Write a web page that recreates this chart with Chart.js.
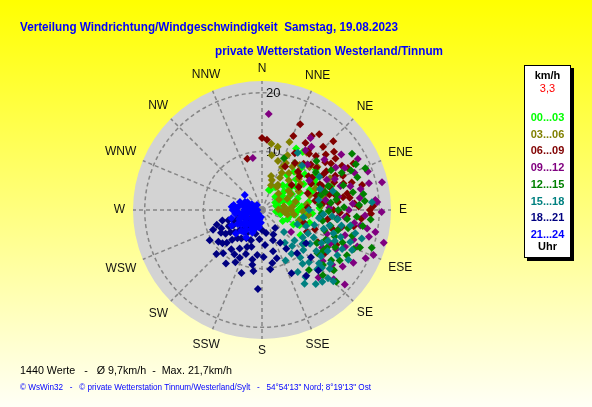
<!DOCTYPE html>
<html>
<head>
<meta charset="utf-8">
<script src="https://cdn.jsdelivr.net/npm/chart.js@4.4.1/dist/chart.umd.min.js"></script>
<style>
html, body { margin: 0; padding: 0; }
body { width: 592px; height: 407px; overflow: hidden; background: linear-gradient(#ffff00, #fffff6); }
#wrap { position: relative; width: 592px; height: 407px; }
</style>
</head>
<body>
<div id="wrap"><canvas id="windChart"></canvas></div>
<script>
// compass and scale
const compassLabels = ['N', 'NNE', 'NE', 'ENE', 'E', 'ESE', 'SE', 'SSE', 'S', 'SSW', 'SW', 'WSW', 'W', 'WNW', 'NW', 'NNW'];
const ringTicks = [10, 20];
const speedMax = 22;

// time groups (Uhr) and their colours
const timeGroups = ['00...03', '03...06', '06...09', '09...12', '12...15', '15...18', '18...21', '21...24'];
const groupColors = ['#00ff00', '#808000', '#800000', '#800080', '#008000', '#008080', '#000080', '#0000ff'];

// [direction in degrees, speed in km/h]
const wind0003 = [[22,3.7],[30,4.5],[35,12.1],[29,12.0],[40,5.5],[45,3.2],[48,7.8],[50,9.5],[52,6.1],[55,4.2],[58,8.4],[60,2.6],
  [62,5.8],[64,10.2],[66,7.1],[68,3.9],[70,9.0],[72,6.4],[74,4.8],[76,11.2],[78,2.9],[80,8.1],[82,5.3],[84,7.4],[86,3.5],
  [88,9.8],[90,6.2],[92,4.1],[94,8.6],[96,2.4],[98,5.7],[100,7.0],[103,3.2],[106,6.5],[110,4.6],[115,5.9],[123,7.8],[128,9.2],
  [57,10.8],[43,9.9],[36,7.3],[53,11.5],[71,12.5],[19,3.6],[35,9.8],[57,10.2],[65,5.0],[79,6.0],[88,4.8],[47,6.0],
  [40,8.5],[45,11.0],[50,5.0],[55,7.0],[60,10.5],[63,3.5],[67,8.8],[73,2.5],[77,5.5],[81,9.5],[85,6.8],[89,3.0],[93,5.9],
  [97,7.6],[101,4.9],[105,8.4],[112,6.9],[118,4.0]];
const wind0306 = [[8,11.4],[14,11.1],[18,8.8],[15,6.0],[20,4.5],[25,10.3],[28,7.2],[32,5.1],[35,9.0],[38,12.4],[42,6.8],[45,4.0],
  [48,10.9],[50,8.2],[54,5.6],[58,3.4],[60,9.6],[63,7.0],[66,4.7],[70,11.0],[73,8.5],[76,5.9],[80,3.8],[83,7.7],[86,10.1],
  [90,5.0],[93,3.6],[96,8.0],[100,4.4],[105,6.6],[88,2.8],[65,12.8],[25,8.1],[18,5.4],[33,4.7],[95,3.9],[90,4.4],[29,6.3],
  [10,9.5],[22,12.5],[27,9.0],[36,7.8],[40,10.0],[44,8.8],[52,12.0],[56,7.9],[61,5.6],[68,9.8],[78,10.8],[84,5.2],[92,7.0],
  [98,5.5]];
const wind0609 = [[0,12.3],[4,12.0],[344,9.1],[23,13.7],[24,16.0],[34,15.2],[46,16.9],[51,15.8],[55,15.3],[76,17.6],[90,18.4],
  [130,15.7],[60,12.0],[62,9.5],[65,13.8],[68,11.0],[70,8.3],[72,14.6],[74,10.4],[78,12.7],[80,9.2],[82,15.1],[85,11.6],
  [87,7.8],[42,10.6],[45,13.0],[48,8.6],[52,11.8],[56,14.2],[58,7.4],[35,9.8],[38,12.8],[30,11.2],[92,13.3],[96,10.0],
  [100,15.9],[105,12.4],[110,9.6],[115,14.0],[88,16.5],[64,16.3],[120,11.0],[28,8.4],[50,6.6],[95,17.0],[92,18.6],
  [40,12.5],[44,15.0],[47,11.4],[53,13.5],[57,10.2],[61,15.6],[66,10.8],[69,13.2],[73,16.0],[77,11.8],[81,14.0],[84,13.0],
  [107,7.5],[116,8.5],[33,13.6],[37,16.2],[43,9.0],[49,14.4],[54,9.8],[59,12.8],[63,17.5],[67,15.0],[71,12.2],[75,9.6],
  [79,14.8],[83,10.6],[86,15.8],[90,12.2],[94,14.5],[98,11.3],[102,13.9],[125,13.0],[88,19.0]];
const wind0912 = [[4,16.4],[350,9.0],[38,13.7],[51,13.7],[77,21.0],[76,18.8],[85,19.4],[86,19.7],[100,18.2],[101,19.7],
  [105,21.5],[115,19.5],[114,15.5],[127,6.2],[60,14.5],[65,12.2],[68,17.0],[72,10.8],[75,15.6],[80,13.2],[83,16.8],[88,11.5],
  [90,14.8],[93,17.6],[96,12.9],[98,15.9],[103,13.6],[108,16.4],[110,11.8],[118,14.3],[122,12.1],[125,16.8],[130,13.5],
  [45,11.0],[55,16.5],[62,18.5],[140,15.0],[134,17.0],[58,9.5],[112,20.5],[34,14.8],[36,12.6],
  [63,15.8],[67,13.5],[70,19.2],[73,14.0],[78,17.2],[81,11.0],[86,15.5],[91,20.4],[95,14.2],[99,17.0],[104,18.8],
  [107,14.8],[111,17.4],[116,13.0],[120,18.0],[128,15.2],[132,19.0]];
const wind1215 = [[23,9.6],[58,18.1],[64,17.8],[66,16.6],[85,17.6],[109,19.8],[111,17.9],[134,17.6],[124,12.5],[70,12.0],
  [73,14.5],[76,10.3],[79,15.8],[82,12.8],[85,9.9],[88,14.0],[91,11.4],[94,16.2],[97,12.9],[100,10.5],[102,15.0],[105,13.4],
  [108,11.2],[112,14.8],[115,12.0],[118,16.4],[121,10.9],[126,14.6],[130,16.0],[60,13.6],[55,11.2],[48,12.5],[95,18.6],
  [137,15.2],[142,13.0],[68,19.0],[65,15.0],[71,17.2],[74,11.2],[78,13.0],[81,17.5],[84,11.8],[87,16.6],[90,13.0],
  [93,10.2],[96,14.6],[99,17.4],[103,12.0],[106,16.0],[110,13.2],[113,17.0],[117,14.0],[120,12.8],[123,15.8],[128,12.0],
  [132,14.0]];
const wind1518 = [[106,17.7],[114,16.8],[135,17.2],[136,16.2],[134,14.2],[147,13.6],[133,13.3],[135,5.3],[86,18.8],[90,8.0],
  [94,10.5],[97,13.0],[100,7.2],[103,11.8],[106,9.3],[109,14.2],[112,6.5],[115,12.4],[118,10.0],[121,15.0],[124,8.4],
  [127,11.6],[130,9.0],[133,7.6],[138,12.0],[141,10.4],[144,15.6],[150,12.2],[128,14.8],[120,17.0],[110,16.0],[100,15.3],
  [95,12.0],[80,9.8],[75,12.5],[70,10.5],[60,11.3],[140,8.0],[155,9.5],[145,6.8],[32,11.5],[42,10.2],
  [98,9.8],[101,13.8],[104,16.4],[107,11.0],[110,8.0],[113,13.5],[116,15.2],[119,11.6],[122,13.2],[125,10.0],[128,12.8],
  [131,15.3],[134,9.8],[137,13.8],[140,16.0],[143,11.5],[146,9.0],[150,14.5],[108,12.8],[117,8.8]];
const wind1821 = [[183,13.5],[155,11.9],[146,13.5],[137,14.1],[134,11.6],[127,9.4],[141,9.5],[248,9.0],[222,9.9],[198,11.3],
  [207,10.0],[190,9.5],[169,9.2],[163,8.6],[151,6.4],[144,3.8],[230,8.8],[244,6.3],[202,6.8],[186,7.7],[195,4.2],[200,5.5],
  [205,3.0],[210,7.6],[213,4.8],[216,6.0],[220,3.6],[225,7.2],[228,5.1],[232,2.6],[235,6.6],[238,4.3],[241,8.0],[245,3.3],
  [250,5.2],[255,7.0],[260,4.0],[218,8.5],[193,2.5],[185,5.0],[175,6.0],[180,3.4],[226,10.8],[214,11.0],[240,10.3],
  [252,8.1],[160,5.5],[165,7.3],[155,4.6],[170,4.0],[148,7.8],[200,8.0],[205,9.0],[209,5.5],[212,8.9],[217,3.0],[221,6.4],
  [224,4.2],[227,8.2],[231,6.0],[234,9.2],[237,7.4],[242,5.6],[246,7.6],[249,4.6],[253,6.0],[196,6.5],[191,8.6],[188,10.5],
  [178,8.0],[172,10.2]];
const wind2124 = [[311,3.9],[290,4.0],[276,5.2],[280,4.9],[270,5.0],[262,4.6],[255,5.4],[248,4.2],[240,4.8],[232,4.0],
  [225,5.0],[218,4.4],[210,3.8],[200,3.4],[190,3.0],[185,2.2],[195,1.6],[205,2.6],[215,1.9],[222,3.0],[230,2.4],[238,1.5],
  [245,3.1],[252,2.0],[258,3.6],[265,1.8],[272,3.0],[278,2.1],[285,3.7],[292,1.4],[298,2.8],[300,2.0],[315,1.2],[270,0.8],
  [230,0.9],[250,4.0],[235,3.5],[265,4.1],[220,4.9],[210,5.4],[243,5.8],[228,6.0],[275,4.2],
  [188,1.2],[198,2.4],[203,4.2],[208,1.5],[213,3.2],[220,2.1],[226,3.8],[233,1.8],[237,4.4],[241,2.9],[246,1.2],[249,3.8],
  [254,2.9],[260,2.4],[262,3.3],[268,4.6],[274,1.3],[281,3.0],[287,2.3],[295,3.2]];
const windGroups = [wind0003, wind0306, wind0609, wind0912, wind1215, wind1518, wind1821, wind2124];

const FONT = '"Liberation Sans", Arial, sans-serif';

function toXY(pairs) {
  return pairs.map(([deg, v]) => {
    const a = deg * Math.PI / 180;
    return { x: v * Math.sin(a), y: v * Math.cos(a) };
  });
}

const windrose = {
  id: 'windrose',
  beforeDatasetsDraw(chart) {
    const { ctx, scales: { x, y } } = chart;
    const cx = x.getPixelForValue(0), cy = y.getPixelForValue(0);
    const R = x.getPixelForValue(speedMax) - cx;
    ctx.save();
    ctx.fillStyle = '#d3d3d3';
    ctx.beginPath();
    ctx.arc(cx, cy, R, 0, Math.PI * 2);
    ctx.fill();

    // spokes + rings
    ctx.strokeStyle = '#858585';
    ctx.lineWidth = 1.5;
    ctx.setLineDash([4, 3]);
    for (let i = 0; i < 16; i++) {
      const a = i * 22.5 * Math.PI / 180;
      ctx.beginPath();
      ctx.moveTo(cx, cy);
      ctx.lineTo(cx + R * Math.sin(a), cy - R * Math.cos(a));
      ctx.stroke();
    }
    ringTicks.forEach(v => {
      const r = x.getPixelForValue(v) - cx;
      ctx.beginPath();
      ctx.arc(cx, cy, r, 0, Math.PI * 2);
      ctx.stroke();
    });
    ctx.setLineDash([]);

    // ring labels
    ctx.fillStyle = '#111';
    ctx.font = '13px ' + FONT;
    ctx.textAlign = 'left';
    ctx.textBaseline = 'middle';
    ringTicks.forEach(v => {
      ctx.fillText(String(v), cx + 4, y.getPixelForValue(v) + 1);
    });

    // compass labels
    ctx.font = '12px ' + FONT;
    ctx.textAlign = 'center';
    compassLabels.forEach((lab, i) => {
      const a = i * 22.5 * Math.PI / 180;
      const w = ctx.measureText(lab).width;
      const r = R + 8 + (w / 2) * Math.abs(Math.sin(a)) + 4 * Math.abs(Math.cos(a));
      ctx.fillText(lab, cx + r * Math.sin(a), cy - r * Math.cos(a));
    });
    ctx.restore();
  },
  afterDraw(chart) {
    const ctx = chart.ctx;
    ctx.save();
    ctx.textBaseline = 'alphabetic';
    ctx.textAlign = 'left';
    ctx.fillStyle = '#0000ff';
    ctx.font = 'bold 12px ' + FONT;
    ctx.fillText('Verteilung Windrichtung/Windgeschwindigkeit  Samstag, 19.08.2023', 20, 31, 378);
    ctx.fillText('private Wetterstation Westerland/Tinnum', 215, 55, 228);

    // footer
    ctx.fillStyle = '#000';
    ctx.font = '11px ' + FONT;
    ctx.fillText('1440 Werte   -   \u00d8 9,7km/h  -  Max. 21,7km/h', 20, 374, 212);
    ctx.fillStyle = '#0000ff';
    ctx.font = '9px ' + FONT;
    ctx.fillText('\u00a9 WsWin32   -   \u00a9 private Wetterstation Tinnum/Westerland/Sylt   -   54\u00b054\'13" Nord; 8\u00b019\'13" Ost', 20, 390, 351);

    // legend box with shadow
    const bx = 524, by = 65, bw = 47, bh = 193;
    ctx.fillStyle = '#000';
    ctx.fillRect(bx + 3, by + 3, bw, bh);
    ctx.fillStyle = '#fff';
    ctx.fillRect(bx, by, bw, bh);
    ctx.strokeStyle = '#000';
    ctx.lineWidth = 1;
    ctx.strokeRect(bx + 0.5, by + 0.5, bw - 1, bh - 1);

    ctx.textAlign = 'center';
    ctx.textBaseline = 'middle';
    const mx = bx + bw / 2;
    ctx.font = 'bold 11px ' + FONT;
    ctx.fillStyle = '#000';
    ctx.fillText('km/h', mx, 76);
    ctx.font = '11px ' + FONT;
    ctx.fillStyle = '#ff0000';
    ctx.fillText('3,3', mx, 89);
    ctx.font = 'bold 11px ' + FONT;
    timeGroups.forEach((g, i) => {
      ctx.fillStyle = groupColors[i];
      ctx.fillText(g, mx, 118 + i * 16.7);
    });
    ctx.fillStyle = '#000';
    ctx.fillText('Uhr', mx, 247);
    ctx.restore();
  }
};

new Chart(document.getElementById('windChart'), {
  type: 'scatter',
  data: {
    datasets: windGroups.map((pts, i) => ({
      label: timeGroups[i],
      data: toXY(pts),
      backgroundColor: groupColors[i],
      borderColor: groupColors[i],
      borderWidth: 0,
      pointStyle: 'rectRot',
      pointRadius: 4,
      order: windGroups.length - i
    }))
  },
  options: {
    responsive: true,
    maintainAspectRatio: false,
    animation: false,
    layout: { padding: { left: 133, right: 201, top: 81, bottom: 68 } },
    scales: {
      x: { type: 'linear', min: -speedMax, max: speedMax, display: false },
      y: { type: 'linear', min: -speedMax, max: speedMax, display: false }
    },
    plugins: {
      legend: { display: false },
      tooltip: { enabled: false }
    }
  },
  plugins: [windrose]
});
</script>
</body>
</html>
